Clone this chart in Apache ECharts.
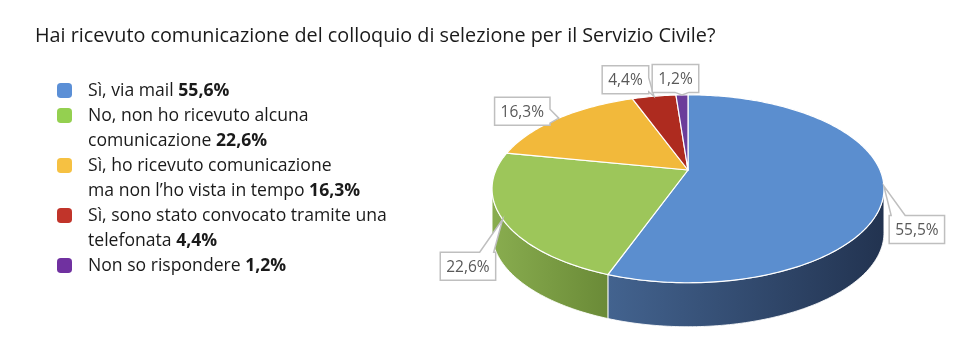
<!DOCTYPE html>
<html>
<head>
<meta charset="utf-8">
<script src="https://cdn.jsdelivr.net/npm/echarts@6/dist/echarts.min.js"></script>
<style>
  html, body { margin: 0; padding: 0; background: #fff; }
  #chart { width: 968px; height: 353px; }
</style>
</head>
<body>
<div id="chart"></div>
<script>
  // data
  const title = 'Hai ricevuto comunicazione del colloquio di selezione per il Servizio Civile?'
  const categories = [
    'Sì, via mail',
    'No, non ho ricevuto alcuna\ncomunicazione',
    'Sì, ho ricevuto comunicazione\nma non l’ho vista in tempo',
    'Sì, sono stato convocato tramite una\ntelefonata',
    'Non so rispondere',
  ]
  const legendPercents = ['55,6%', '22,6%', '16,3%', '4,4%', '1,2%']
  const pieValues = [55.5, 22.6, 16.3, 4.4, 1.2]

  // styles
  const legendColors = ['#5b8fd6', '#94d050', '#f6c142', '#c1342a', '#7031a0']
  const topColors = ['#5b8ecf', '#9dc65a', '#f2b93b', '#ae2b1f', '#6b3d9a']
  const sideColors = [['#43638f', '#223350'], ['#89ad4f', '#6a8a37'], ['#c99a2e', '#a67e22'], ['#8a2219', '#6e1b14'], ['#54307a', '#432663']]
  const labelOffsets = [[33, 43.5], [-34.7, 47], [-36.5, -7], [-28.5, -16.5], [-6.5, -16.5]]
  const PIE = { cx: 688, cy: 170, sx: 192, sy: 90.2, e: 0.2, depth: 44 }
  const textFont = '"Open Sans"'

  const total = pieValues.reduce((s, v) => s + v, 0)
  const starts = []
  pieValues.reduce((acc, v) => { starts.push(acc / total * 360); return acc + v }, 0)

  const proj = (deg, dy = 0) => {
    const p = deg * Math.PI / 180
    const d = 1 + PIE.e * Math.cos(p)
    return [PIE.cx + PIE.sx * Math.sin(p) / d, PIE.cy - PIE.sy * Math.cos(p) / d + dy]
  }
  const arc = (from, to, dy) => {
    const n = Math.max(2, Math.ceil(Math.abs(to - from)))
    const pts = []
    for (let k = 0; k <= n; k++) pts.push(proj(from + (to - from) * k / n, dy))
    return pts
  }
  const visFrom = Math.acos(-PIE.e) * 180 / Math.PI
  const visTo = 360 - visFrom

  const labelFont = '15.5px "Open Sans"'
  const ctx = document.createElement('canvas').getContext('2d')
  ctx.font = labelFont
  const fmtPct = v => v.toFixed(1).replace('.', ',') + '%'

  function callout(anchor, c, w, h) {
    const l = c[0] - w / 2, r = c[0] + w / 2, t = c[1] - h / 2, b = c[1] + h / 2
    const dx = (anchor[0] - c[0]) / (w / 2), dy = (anchor[1] - c[1]) / (h / 2)
    const clamp = (v, lo, hi) => Math.min(hi, Math.max(lo, v))
    if (Math.abs(dy) >= Math.abs(dx)) {
      const wb = Math.min(14, w / 3)
      const s = clamp(anchor[0] - wb / 2, l + 2, r - 2 - wb)
      return dy < 0
        ? [[l, t], [s, t], anchor, [s + wb, t], [r, t], [r, b], [l, b]]
        : [[l, t], [r, t], [r, b], [s + wb, b], anchor, [s, b], [l, b]]
    }
    const wb = Math.min(14, h / 2)
    const s = clamp(anchor[1] - wb / 2, t + 2, b - 2 - wb)
    return dx < 0
      ? [[l, t], [r, t], [r, b], [l, b], [l, s + wb], anchor, [l, s]]
      : [[l, t], [r, t], [r, s], anchor, [r, s + wb], [r, b], [l, b]]
  }

  function renderSlice(params, api) {
    const i = params.dataIndex
    const a = starts[i]
    const b = a + api.value(0) / total * 360
    const children = []
    const lo = Math.max(a, visFrom), hi = Math.min(b, visTo)
    if (hi > lo) {
      children.push({
        type: 'polygon',
        shape: { points: arc(lo, hi, 0).concat(arc(hi, lo, PIE.depth)) },
        style: {
          fill: new echarts.graphic.LinearGradient(0, 0, 1, 0, [
            { offset: 0, color: sideColors[i][0] },
            { offset: 1, color: sideColors[i][1] },
          ]),
          stroke: 'rgba(255,255,255,0.85)',
          lineWidth: 1,
        },
        z2: 1,
      })
    }
    children.push({
      type: 'polygon',
      shape: { points: [[PIE.cx, PIE.cy]].concat(arc(a, b, 0)) },
      style: { fill: topColors[i], stroke: '#fff', lineWidth: 1.2, lineJoin: 'round' },
      z2: 2,
    })
    const text = fmtPct(api.value(0))
    const anchor = proj((a + b) / 2)
    const c = [anchor[0] + labelOffsets[i][0], anchor[1] + labelOffsets[i][1]]
    const w = ctx.measureText(text).width + 12, h = 28
    children.push({
      type: 'polygon',
      shape: { points: callout(anchor, c, w, h) },
      style: { fill: '#fff', stroke: '#bfbfbf', lineWidth: 1.5 },
      z2: 10,
    })
    children.push({
      type: 'text',
      style: { text, x: c[0], y: c[1] + 1, align: 'center', verticalAlign: 'middle', font: labelFont, fill: '#595959' },
      z2: 11,
    })
    return { type: 'group', children }
  }

  // legend rows: one row per text line, icon only on the first line
  const legendRows = []
  categories.forEach((cat, i) => {
    const lines = cat.split('\n')
    lines.forEach((line, j) => {
      legendRows.push({
        name: j === lines.length - 1 ? `${line} ${legendPercents[i]}` : line,
        color: j === 0 ? legendColors[i] : 'rgba(0,0,0,0)',
      })
    })
  })

  const chart = echarts.init(document.getElementById('chart'))
  chart.setOption({
    animation: false,
    title: {
      text: title,
      left: 35,
      top: 26,
      padding: 0,
      textStyle: { fontFamily: textFont, fontSize: 19.8, fontWeight: 'normal', color: '#1a1a1a' },
    },
    legend: {
      orient: 'vertical',
      left: 57,
      top: 78,
      padding: 0,
      itemGap: 0,
      itemWidth: 15,
      itemHeight: 15,
      icon: 'roundRect',
      selectedMode: false,
      data: legendRows.map(r => r.name),
      formatter: name => {
        const k = name.lastIndexOf(' ')
        const tail = name.slice(k + 1)
        return /%$/.test(tail) ? `{n|${name.slice(0, k)}} {b|${tail}}` : `{n|${name}}`
      },
      textStyle: {
        padding: [0, 0, 0, 11],
        fontFamily: textFont,
        fontSize: 17.6,
        lineHeight: 25,
        color: '#1a1a1a',
        rich: {
          n: { fontFamily: textFont, fontSize: 17.6, lineHeight: 25, color: '#1a1a1a' },
          b: { fontFamily: textFont, fontSize: 17.6, lineHeight: 25, color: '#1a1a1a', fontWeight: 'bold' },
        },
      },
    },
    series: [
      ...legendRows.map(r => ({
        type: 'custom',
        name: r.name,
        coordinateSystem: 'none',
        itemStyle: { color: r.color },
        data: [],
        renderItem: () => null,
      })),
      {
        type: 'custom',
        name: 'torta',
        coordinateSystem: 'none',
        silent: true,
        data: pieValues.map((v, i) => ({ name: categories[i], value: v })),
        renderItem: renderSlice,
      },
    ],
  })
</script>
</body>
</html>
